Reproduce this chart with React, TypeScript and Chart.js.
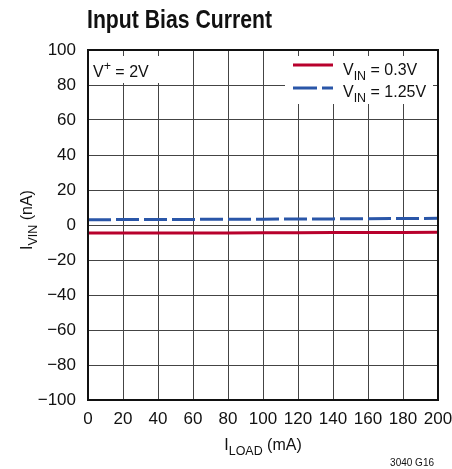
import React, { useEffect, useRef } from "react";
import { Chart, registerables } from "chart.js";

Chart.register(...registerables);

const loadCurrent = [0, 20, 40, 60, 80, 100, 120, 140, 160, 180, 200];
const biasVin03 = [-4.6, -4.6, -4.55, -4.5, -4.5, -4.45, -4.4, -4.35, -4.3, -4.25, -4.2];
const biasVin125 = [3.0, 3.1, 3.15, 3.2, 3.3, 3.35, 3.45, 3.5, 3.6, 3.7, 3.8];
const xTicks = [0, 20, 40, 60, 80, 100, 120, 140, 160, 180, 200];
const yTicks = [-100, -80, -60, -40, -20, 0, 20, 40, 60, 80, 100];

const FONT = "'Liberation Sans', Arial, sans-serif";
const RED = "#b8002c";
const BLUE = "#2a56a8";
const SQ = 0.94;

type Part = [string, "n" | "sub" | "sup"];

function partSize(k: string, size: number) {
  return k === "n" ? size : size * 0.78;
}

function measureSub(ctx: CanvasRenderingContext2D, parts: Part[], size: number) {
  let w = 0;
  for (const [t, k] of parts) {
    ctx.font = `${partSize(k, size)}px ${FONT}`;
    w += ctx.measureText(t).width * SQ;
  }
  return w;
}

function drawSub(ctx: CanvasRenderingContext2D, x: number, y: number, parts: Part[], size: number) {
  let cx = x;
  for (const [t, k] of parts) {
    const s = partSize(k, size);
    const dy = k === "sub" ? size * 0.3 : k === "sup" ? -size * 0.4 : 0;
    ctx.font = `${s}px ${FONT}`;
    ctx.save();
    ctx.translate(cx, y + dy);
    ctx.scale(SQ, 1);
    ctx.fillText(t, 0, 0);
    ctx.restore();
    cx += ctx.measureText(t).width * SQ;
  }
  return cx - x;
}

const overlayPlugin = {
  id: "overlay",
  beforeDatasetsDraw(chart: any) {
    const ctx = chart.ctx as CanvasRenderingContext2D;
    ctx.save();
    ctx.fillStyle = "#ffffff";
    ctx.fillRect(89, 56, 82, 27);
    ctx.fillRect(285, 56, 148, 48);
    ctx.restore();
  },
  afterDraw(chart: any) {
    const ctx = chart.ctx as CanvasRenderingContext2D;
    const a = chart.chartArea;
    ctx.save();
    ctx.fillStyle = "#111";
    ctx.textBaseline = "alphabetic";
    ctx.textAlign = "left";
    ctx.font = `bold 25px ${FONT}`;
    const title = "Input Bias Current";
    const tw = ctx.measureText(title).width;
    ctx.save();
    ctx.translate(87, 28);
    ctx.scale(185 / tw, 1);
    ctx.fillText(title, 0, 0);
    ctx.restore();
    drawSub(ctx, 93, 77, [["V", "n"], ["+", "sup"], [" = 2V", "n"]], 17);
    ctx.lineWidth = 3;
    ctx.strokeStyle = RED;
    ctx.setLineDash([]);
    ctx.beginPath();
    ctx.moveTo(293, 65);
    ctx.lineTo(333, 65);
    ctx.stroke();
    ctx.strokeStyle = BLUE;
    ctx.setLineDash([24, 5]);
    ctx.beginPath();
    ctx.moveTo(293, 88);
    ctx.lineTo(333, 88);
    ctx.stroke();
    ctx.setLineDash([]);
    drawSub(ctx, 343, 75, [["V", "n"], ["IN", "sub"], [" = 0.3V", "n"]], 17);
    drawSub(ctx, 343, 97, [["V", "n"], ["IN", "sub"], [" = 1.25V", "n"]], 17);
    const xParts: Part[] = [["I", "n"], ["LOAD", "sub"], [" (mA)", "n"]];
    const xw = measureSub(ctx, xParts, 17);
    drawSub(ctx, (a.left + a.right) / 2 - xw / 2, 450, xParts, 17);
    const yParts: Part[] = [["I", "n"], ["VIN", "sub"], [" (nA)", "n"]];
    const yw = measureSub(ctx, yParts, 17);
    ctx.save();
    ctx.translate(32, 220);
    ctx.rotate(-Math.PI / 2);
    drawSub(ctx, -yw / 2, 0, yParts, 17);
    ctx.restore();
    ctx.font = `10px ${FONT}`;
    ctx.textAlign = "right";
    ctx.fillText("3040 G16", 434, 466);
    ctx.strokeStyle = "#111";
    ctx.lineWidth = 2;
    ctx.strokeRect(a.left, a.top, a.right - a.left, a.bottom - a.top);
    ctx.restore();
  },
};

export default function App() {
  const ref = useRef<HTMLCanvasElement | null>(null);
  useEffect(() => {
    if (!ref.current) return;
    const chart = new Chart(ref.current, {
      type: "line",
      data: {
        labels: loadCurrent,
        datasets: [
          {
            label: "VIN = 0.3V",
            data: loadCurrent.map((x, i) => ({ x, y: biasVin03[i] })),
            borderColor: RED,
            borderWidth: 3,
            pointRadius: 0,
            tension: 0,
          },
          {
            label: "VIN = 1.25V",
            data: loadCurrent.map((x, i) => ({ x, y: biasVin125[i] })),
            borderColor: BLUE,
            borderWidth: 3,
            borderDash: [23, 5],
            pointRadius: 0,
            tension: 0,
          },
        ],
      },
      plugins: [overlayPlugin],
      options: {
        animation: false,
        responsive: false,
        devicePixelRatio: 1,
        layout: { autoPadding: false, padding: { left: 0, right: 14, top: 50, bottom: 0 } },
        plugins: { legend: { display: false }, tooltip: { enabled: false }, title: { display: false } },
        scales: {
          x: {
            type: "linear",
            min: 0,
            max: 200,
            afterBuildTicks: (s: any) => { s.ticks = xTicks.map((v) => ({ value: v })); },
            afterFit: (s: any) => { s.height = 69; s.paddingLeft = 0; s.paddingRight = 0; },
            grid: { color: "#444", lineWidth: 1, drawTicks: false },
            border: { display: false },
            ticks: { color: "#111", font: { family: FONT, size: 17 }, padding: 9, maxRotation: 0, autoSkip: false },
          },
          y: {
            type: "linear",
            min: -100,
            max: 100,
            afterBuildTicks: (s: any) => { s.ticks = yTicks.map((v) => ({ value: v })); },
            afterFit: (s: any) => { s.width = 88; s.paddingTop = 0; s.paddingBottom = 0; },
            grid: { color: "#444", lineWidth: 1, drawTicks: false },
            border: { display: false },
            ticks: {
              color: "#111",
              font: { family: FONT, size: 17 },
              padding: 12,
              autoSkip: false,
              callback: (v: any) => (Number(v) < 0 ? "\u2212" + Math.abs(Number(v)) : String(v)),
            },
          },
        },
      },
    });
    return () => chart.destroy();
  }, []);
  return (
    <div style={{ position: "absolute", left: 0, top: 0, width: 452, height: 469 }}>
      <canvas ref={ref} width={452} height={469} style={{ width: 452, height: 469, display: "block" }} />
    </div>
  );
}
